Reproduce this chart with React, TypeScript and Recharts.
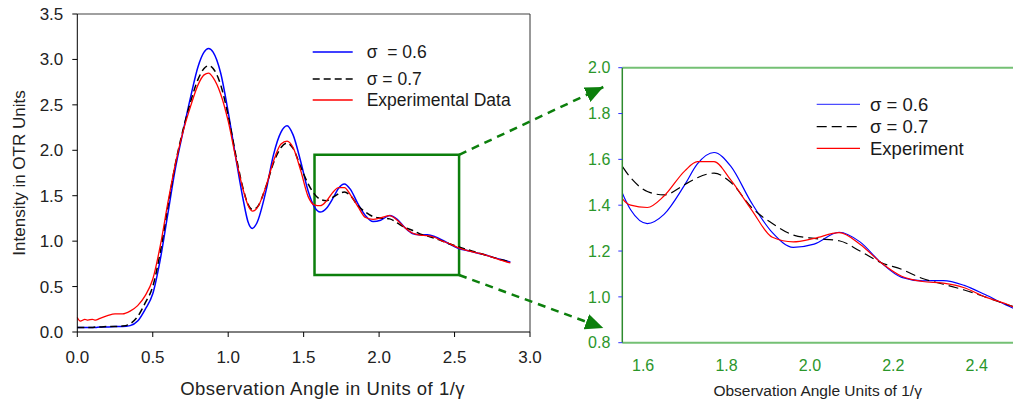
import { LineChart, Line, XAxis, YAxis, ReferenceArea, ReferenceLine, Legend } from 'recharts';

// observation angle in units of 1/gamma
const angle = [
  0, 0.02, 0.05, 0.07, 0.1, 0.12, 0.15, 0.2, 0.25, 0.3, 0.35, 0.4, 0.45, 0.5,
  0.55, 0.6, 0.65, 0.7, 0.75, 0.8, 0.84, 0.87, 0.9, 0.95, 1.0, 1.05, 1.1, 1.13,
  1.16, 1.19, 1.25, 1.3, 1.35, 1.39, 1.43, 1.48, 1.53, 1.57, 1.61, 1.65, 1.7,
  1.73, 1.77, 1.81, 1.86, 1.91, 1.96, 2.01, 2.07, 2.12, 2.17, 2.22, 2.27, 2.32,
  2.37, 2.42, 2.47, 2.52, 2.6, 2.7, 2.8, 2.87,
];

// sigma = 0.6 (blue)
const sigma06 = [
  0.05, 0.05, 0.05, 0.05, 0.05, 0.05, 0.055, 0.055, 0.06, 0.06, 0.07, 0.12, 0.25, 0.42,
  0.8, 1.3, 1.8, 2.2, 2.58, 2.92, 3.08, 3.12, 3.08, 2.85, 2.42, 1.92, 1.45, 1.22,
  1.14, 1.2, 1.55, 1.95, 2.2, 2.27, 2.17, 1.88, 1.55, 1.38, 1.32, 1.36, 1.49,
  1.58, 1.63, 1.57, 1.41, 1.28, 1.216, 1.23, 1.282, 1.24, 1.15, 1.085, 1.07, 1.071,
  1.05, 1.01, 0.965, 0.925, 0.89, 0.85, 0.8, 0.77,
];

// sigma = 0.7 (black dashed)
const sigma07 = [
  0.05, 0.05, 0.05, 0.05, 0.05, 0.055, 0.055, 0.06, 0.06, 0.065, 0.09, 0.17, 0.32, 0.5,
  0.88, 1.38, 1.85, 2.22, 2.53, 2.78, 2.9, 2.93, 2.9, 2.72, 2.38, 1.95, 1.57, 1.41,
  1.35, 1.37, 1.6, 1.86, 2.03, 2.08, 2.02, 1.82, 1.63, 1.52, 1.46, 1.445, 1.49,
  1.52, 1.54, 1.5, 1.39, 1.32, 1.27, 1.255, 1.245, 1.2, 1.15, 1.12, 1.08, 1.055,
  1.03, 1.0, 0.968, 0.94, 0.9, 0.85, 0.8, 0.77,
];

// experimental data (red)
const experiment = [
  0.16, 0.12, 0.14, 0.13, 0.14, 0.13, 0.15, 0.18, 0.2, 0.2, 0.23, 0.29, 0.4, 0.58,
  0.95, 1.42, 1.85, 2.2, 2.48, 2.72, 2.83, 2.85, 2.8, 2.62, 2.32, 1.92, 1.56, 1.4,
  1.33, 1.36, 1.6, 1.88, 2.07, 2.1, 2.03, 1.78, 1.49, 1.4, 1.39, 1.44, 1.55,
  1.59, 1.59, 1.51, 1.38, 1.26, 1.24, 1.255, 1.28, 1.23, 1.15, 1.09, 1.067, 1.06,
  1.04, 1.0, 0.97, 0.93, 0.89, 0.85, 0.795, 0.76,
];

const mainXTicks = [0, 0.5, 1, 1.5, 2, 2.5, 3];
const mainYTicks = [0, 0.5, 1, 1.5, 2, 2.5, 3, 3.5];
const zoomXTicks = [1.6, 1.8, 2.0, 2.2, 2.4];
const zoomYTicks = [0.8, 1.0, 1.2, 1.4, 1.6, 1.8, 2.0];

// region of the main plot that is blown up on the right
const zoomBox = { x1: 1.572, x2: 2.53, y1: 0.627, y2: 1.95 };

const data = angle.map((x, i) => ({
  x,
  s6: sigma06[i],
  s7: sigma07[i],
  exp: experiment[i],
}));

const FONT = "Arial, 'Liberation Sans', Helvetica, sans-serif";
const GREEN = '#0c7f0c';
const fmt = (v: number) => v.toFixed(1);

// layout of the two plots (page pixels)
const MAIN = { w: 545, h: 405, left: 77.3, right: 530, top: 14, bottom: 332 };
const ZOOM = { x0: 540, w: 473, h: 405, left: 622.3, top: 67.7, bottom: 342.7 };

const mainPx = (x: number) => MAIN.left + (x / 3) * (MAIN.right - MAIN.left);
const mainPy = (y: number) => MAIN.bottom - (y / 3.5) * (MAIN.bottom - MAIN.top);

type Row = { label: string; color: string; dash?: string; y: number };

const legendBox = (rows: Row[], lineX: [number, number], textX: number, size: number) => () => (
  <svg width={240} height={80} style={{ overflow: 'visible' }}>
    {rows.map((r) => (
      <g key={r.label}>
        <line x1={lineX[0]} x2={lineX[1]} y1={r.y} y2={r.y} stroke={r.color} strokeWidth={1.3} strokeDasharray={r.dash} />
        <text x={textX} y={r.y} dy="0.36em" fontSize={size} fill="#1a1a1a" fontFamily={FONT} style={{ whiteSpace: 'pre' }}>
          {r.label}
        </text>
      </g>
    ))}
  </svg>
);

const mainLegend = legendBox(
  [
    { label: 'σ\u00a0 = 0.6', color: '#0000ff', y: 12 },
    { label: 'σ = 0.7', color: '#000', dash: '7 4', y: 39 },
    { label: 'Experimental Data', color: '#ff0000', y: 60 },
  ],
  [7.7, 47.7],
  61.7,
  17.5,
);

const zoomLegend = legendBox(
  [
    { label: 'σ = 0.6', color: '#4d4dff', y: 14.3 },
    { label: 'σ = 0.7', color: '#000', dash: '10 5', y: 36.7 },
    { label: 'Experiment', color: '#ff0000', y: 58.3 },
  ],
  [11.7, 55],
  65,
  18.5,
);

export default function App() {
  const upStart = { x: mainPx(zoomBox.x2), y: mainPy(zoomBox.y2) };
  const downStart = { x: mainPx(zoomBox.x2), y: mainPy(zoomBox.y1) };
  const arrowX = ZOOM.left - 19;

  return (
    <div style={{ position: 'absolute', left: 0, top: 0, width: 1013, height: 405, background: '#fff', fontFamily: FONT, overflow: 'hidden' }}>
      <div style={{ position: 'absolute', left: 0, top: 0 }}>
        <LineChart width={MAIN.w} height={MAIN.h} data={data} margin={{ top: MAIN.top, right: MAIN.w - MAIN.right, left: 0, bottom: 0 }}>
          <XAxis
            dataKey="x"
            type="number"
            domain={[0, 3]}
            ticks={mainXTicks}
            tickFormatter={fmt}
            height={MAIN.h - MAIN.bottom}
            tickSize={5}
            tickMargin={14}
            stroke="#000"
            tick={{ fontSize: 17, fill: '#222', fontFamily: FONT }}
            label={{ value: 'Observation Angle in Units of 1/γ', position: 'insideBottom', offset: 10, dx: 19, fontSize: 18.5, fill: '#222', fontFamily: FONT, style: { letterSpacing: '0.5px' } }}
          />
          <YAxis
            type="number"
            domain={[0, 3.5]}
            ticks={mainYTicks}
            tickFormatter={fmt}
            width={MAIN.left}
            tickSize={5}
            tickMargin={9}
            stroke="#000"
            tick={{ fontSize: 17, fill: '#222', fontFamily: FONT }}
            label={{ value: 'Intensity in OTR Units', angle: -90, position: 'insideLeft', offset: 19, fontSize: 17, fill: '#222', fontFamily: FONT, style: { textAnchor: 'middle' } }}
          />
          <ReferenceLine y={3.5} stroke="#808080" strokeWidth={1.5} />
          <ReferenceLine x={3} stroke="#333" strokeWidth={1} />
          <Line type="monotone" dataKey="s6" stroke="#0000ff" strokeWidth={1.5} dot={false} isAnimationActive={false} />
          <Line type="monotone" dataKey="s7" stroke="#000" strokeWidth={1.5} strokeDasharray="7 4" dot={false} isAnimationActive={false} />
          <Line type="monotone" dataKey="exp" stroke="#ff0000" strokeWidth={1.3} dot={false} isAnimationActive={false} />
          <ReferenceArea x1={zoomBox.x1} x2={zoomBox.x2} y1={zoomBox.y1} y2={zoomBox.y2} fill="none" stroke={GREEN} strokeWidth={2.5} />
          <Legend layout="vertical" align="center" verticalAlign="middle" content={mainLegend} wrapperStyle={{ left: 305, top: 40, width: 240, height: 80 }} />
        </LineChart>
      </div>

      <div style={{ position: 'absolute', left: ZOOM.x0, top: 0 }}>
        <LineChart width={ZOOM.w} height={ZOOM.h} data={data} margin={{ top: ZOOM.top, right: 0, left: 0, bottom: 0 }}>
          <XAxis
            dataKey="x"
            type="number"
            domain={[1.55, 2.487]}
            ticks={zoomXTicks}
            tickFormatter={fmt}
            allowDataOverflow
            height={ZOOM.h - ZOOM.bottom}
            tickSize={4}
            tickMargin={13}
            stroke="#74c074"
            axisLine={{ stroke: '#74c074', strokeWidth: 2 }}
            tickLine={false}
            tick={{ fontSize: 16, fill: '#2a962a', fontFamily: FONT }}
            label={{ value: 'Observation Angle Units of 1/γ', position: 'insideBottom', offset: 9, fontSize: 15.5, fill: '#222', fontFamily: FONT }}
          />
          <YAxis
            type="number"
            domain={[0.8, 2.0]}
            ticks={zoomYTicks}
            tickFormatter={fmt}
            allowDataOverflow
            width={ZOOM.left - ZOOM.x0}
            tickSize={4}
            tickMargin={8}
            axisLine={{ stroke: '#2e8b2e', strokeWidth: 1.5 }}
            tickLine={{ stroke: '#3030ff' }}
            tick={{ fontSize: 16, fill: '#2a962a', fontFamily: FONT }}
          />
          <ReferenceLine y={2} stroke="#74c074" strokeWidth={2} />
          <Line type="monotone" dataKey="s6" stroke="#0000ff" strokeWidth={1.2} dot={false} isAnimationActive={false} />
          <Line type="monotone" dataKey="s7" stroke="#000" strokeWidth={1.2} strokeDasharray="10 5" dot={false} isAnimationActive={false} />
          <Line type="monotone" dataKey="exp" stroke="#ff0000" strokeWidth={1.2} dot={false} isAnimationActive={false} />
          <Legend layout="vertical" align="center" verticalAlign="middle" content={zoomLegend} wrapperStyle={{ left: 265, top: 90, width: 240, height: 80 }} />
        </LineChart>
      </div>

      {/* dashed pointers from the boxed region to the enlarged plot */}
      <svg width={1013} height={405} style={{ position: 'absolute', left: 0, top: 0, pointerEvents: 'none' }}>
        <defs>
          <marker id="head" markerUnits="userSpaceOnUse" markerWidth={20} markerHeight={16} refX={18} refY={8} orient="auto">
            <path d="M0,0 L18,8 L0,16 Z" fill={GREEN} />
          </marker>
        </defs>
        <line x1={upStart.x} y1={upStart.y} x2={arrowX} y2={87} stroke={GREEN} strokeWidth={2.5} strokeDasharray="8 6" markerEnd="url(#head)" />
        <line x1={downStart.x} y1={downStart.y} x2={arrowX} y2={328} stroke={GREEN} strokeWidth={2.5} strokeDasharray="8 6" markerEnd="url(#head)" />
      </svg>
    </div>
  );
}
